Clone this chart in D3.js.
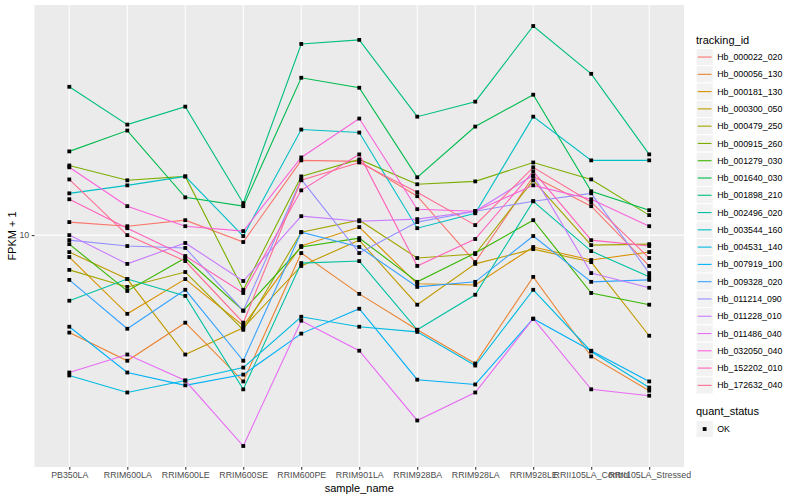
<!DOCTYPE html>
<html>
<head>
<meta charset="utf-8">
<script src="https://cdn.jsdelivr.net/npm/d3@7"></script>
<style>
body { margin: 0; background: #fff; }
text { font-family: "Liberation Sans", Arial, Helvetica, sans-serif; }
</style>
</head>
<body>
<div id="chart_area"></div>
<script>
//categories and legend
var sSamples = ["PB350LA","RRIM600LA","RRIM600LE","RRIM600SE","RRIM600PE","RRIM901LA",
	"RRIM928BA","RRIM928LA","RRIM928LE","RRII105LA_Control","RRII105LA_Stressed"];
var sIds = ["Hb_000022_020","Hb_000056_130","Hb_000181_130","Hb_000300_050","Hb_000479_250",
	"Hb_000915_260","Hb_001279_030","Hb_001640_030","Hb_001898_210","Hb_002496_020",
	"Hb_003544_160","Hb_004531_140","Hb_007919_100","Hb_009328_020","Hb_011214_090",
	"Hb_011228_010","Hb_011486_040","Hb_032050_040","Hb_152202_010","Hb_172632_040"];
var sColors = ["#F8766D","#EA8331","#D89000","#C09B00","#A3A500","#7CAE00","#39B600","#00BB4E",
	"#00BF7D","#00C1A3","#00BFC4","#00BAE0","#00B0F6","#35A2FF","#9590FF","#C77CFF",
	"#E76BF3","#FA62DB","#FF62BC","#FF6C91"];
var sYTicks = [10];
var sStatus = ["OK"];

//FPKM + 1 per gene, one value per sample
var hb000022_020 = [10.59,10.40,10.68,9.70,13.90,13.84,11.87,8.88,12.95,11.36,8.73];
var hb000056_130 = [6.51,5.75,6.80,5.25,9.24,7.72,6.59,5.68,8.32,5.86,5.04];
var hb000181_130 = [9.08,7.07,8.24,6.71,9.53,10.36,8.07,8.03,9.49,8.96,9.28];
var hb000300_050 = [9.28,8.24,5.91,6.65,8.73,9.78,7.36,8.81,9.40,8.88,6.42];
var hb000479_250 = [8.58,7.96,8.50,6.59,10.13,10.68,9.04,9.20,12.73,9.57,9.61];
var hb000915_260 = [13.59,12.73,12.95,7.86,12.95,13.96,12.51,12.67,13.77,12.78,10.92];
var hb001279_030 = [9.61,7.82,9.04,7.17,9.49,9.87,8.14,9.24,10.68,7.75,7.36];
var hb001640_030 = [14.46,15.85,11.81,11.36,20.00,19.14,12.90,16.13,18.56,12.13,11.16];
var hb001898_210 = [19.22,16.27,17.61,11.51,23.21,23.63,16.85,18.00,25.12,20.35,14.27];
var hb002496_020 = [7.49,8.24,7.65,5.07,8.84,8.92,6.59,7.69,11.61,9.32,8.32];
var hb003544_160 = [12.02,12.45,12.95,9.96,15.92,15.71,10.31,11.01,16.85,13.90,13.90];
var hb004531_140 = [5.39,5.00,5.27,5.58,6.98,6.68,6.53,5.63,7.86,5.99,5.11];
var hb007919_100 = [6.68,5.46,5.16,5.41,6.48,7.23,5.29,5.18,6.92,6.01,5.25];
var hb009328_020 = [8.21,6.62,7.86,5.75,10.13,9.49,7.96,8.14,9.96,8.14,8.21];
var hb011214_090 = [9.78,9.53,9.45,7.17,12.78,9.24,10.59,11.11,11.61,12.02,8.46];
var hb011228_010 = [10.00,8.81,9.66,8.17,10.87,10.63,10.73,11.11,13.01,8.46,7.93];
var hb011486_040 = [5.46,5.91,5.27,3.95,6.86,6.01,4.42,5.00,6.92,5.07,4.93];
var hb032050_040 = [13.48,11.36,10.40,10.18,14.08,16.71,11.21,11.11,12.45,11.71,10.40];
var hb152202_010 = [11.71,10.31,9.12,7.75,12.18,14.27,8.73,9.83,13.24,9.78,9.53];
var hb172632_040 = [12.78,10.00,8.92,6.80,12.73,13.77,12.08,10.45,13.48,11.56,9.04];

var sValues = [hb000022_020,hb000056_130,hb000181_130,hb000300_050,hb000479_250,hb000915_260,
	hb001279_030,hb001640_030,hb001898_210,hb002496_020,hb003544_160,hb004531_140,hb007919_100,
	hb009328_020,hb011214_090,hb011228_010,hb011486_040,hb032050_040,hb152202_010,hb172632_040];

var sSeries = sIds.map(function(id, i){
	return { id: id, color: sColors[i], values: sValues[i].map(function(v, j){ return { sample: sSamples[j], value: v }; }) };
});

//frame and panel
var sFrame = d3.select("#chart_area").append("svg").attr("width", 800).attr("height", 500);
sFrame.append("rect").attr("width", 800).attr("height", 500).attr("fill", "#fff");

var sPanel = { left: 34.5, right: 684, top: 5, bottom: 467 };

//scales (ggplot style expansion)
var sX = d3.scalePoint().domain(sSamples).range([sPanel.left, sPanel.right]).padding(0.6);
var sAll = d3.merge(sValues);
var sLo = Math.log10(d3.min(sAll)), sHi = Math.log10(d3.max(sAll));
var sPad = (sHi - sLo) * 0.05;
var sY = d3.scaleLog().domain([Math.pow(10, sLo - sPad), Math.pow(10, sHi + sPad)]).range([sPanel.bottom, sPanel.top]);

sFrame.append("rect")
	.attr("x", sPanel.left).attr("y", sPanel.top)
	.attr("width", sPanel.right - sPanel.left).attr("height", sPanel.bottom - sPanel.top)
	.attr("fill", "#EBEBEB");

//grid
var sGrid = sFrame.append("g");
sGrid.selectAll(".gx").data(sSamples).enter().append("line")
	.attr("x1", function(d){ return sX(d); }).attr("x2", function(d){ return sX(d); })
	.attr("y1", sPanel.top).attr("y2", sPanel.bottom)
	.attr("stroke", "#fff").attr("stroke-width", 1.1);
sGrid.selectAll(".gy").data(sYTicks).enter().append("line")
	.attr("x1", sPanel.left).attr("x2", sPanel.right)
	.attr("y1", function(d){ return sY(d); }).attr("y2", function(d){ return sY(d); })
	.attr("stroke", "#fff").attr("stroke-width", 1.1);

//lines
var sLine = d3.line().x(function(d){ return sX(d.sample); }).y(function(d){ return sY(d.value); });
sFrame.append("g").selectAll("path").data(sSeries).enter().append("path")
	.attr("d", function(d){ return sLine(d.values); })
	.attr("fill", "none").attr("stroke", function(d){ return d.color; }).attr("stroke-width", 1.1);

//points
var sPts = d3.merge(sSeries.map(function(s){ return s.values; }));
sFrame.append("g").selectAll("rect").data(sPts).enter().append("rect")
	.attr("x", function(d){ return sX(d.sample) - 1.9; })
	.attr("y", function(d){ return sY(d.value) - 1.9; })
	.attr("width", 3.8).attr("height", 3.8).attr("fill", "#000");

//axes
var sXAxis = d3.axisBottom(sX).tickSize(2.75).tickPadding(2.5);
var gX = sFrame.append("g").attr("transform", "translate(0," + sPanel.bottom + ")").call(sXAxis);
var sYAxis = d3.axisLeft(sY).tickValues(sYTicks).tickFormat(d3.format("d")).tickSize(2.75).tickPadding(2.5);
var gY = sFrame.append("g").attr("transform", "translate(" + sPanel.left + ",0)").call(sYAxis);
[gX, gY].forEach(function(g){
	g.select(".domain").remove();
	g.selectAll(".tick line").attr("stroke", "#333333").attr("stroke-width", 1.07);
	g.selectAll(".tick text").attr("fill", "#4D4D4D").style("font-size", "8.8px")
		.style("font-family", "'Liberation Sans', Arial, sans-serif");
});

sFrame.append("text").attr("x", (sPanel.left + sPanel.right) / 2).attr("y", 492)
	.attr("text-anchor", "middle").style("font-size", "11px").attr("fill", "#000").text("sample_name");
sFrame.append("text").attr("transform", "translate(16," + ((sPanel.top + sPanel.bottom) / 2) + ") rotate(-90)")
	.attr("text-anchor", "middle").style("font-size", "11px").attr("fill", "#000").text("FPKM + 1");

//legend tracking_id
var sKey = 17.28;
var sLeg = sFrame.append("g").attr("transform", "translate(696,0)");
sLeg.append("text").attr("x", 0).attr("y", 44).style("font-size", "11px").text("tracking_id");
var sItems = sLeg.selectAll(".item").data(sSeries).enter().append("g")
	.attr("transform", function(d, i){ return "translate(0," + (48.4 + i * sKey) + ")"; });
sItems.append("rect").attr("width", sKey).attr("height", sKey)
	.attr("fill", "#F2F2F2").attr("stroke", "#fff").attr("stroke-width", 1);
sItems.append("line").attr("x1", 1.7).attr("x2", sKey - 1.7)
	.attr("y1", sKey / 2).attr("y2", sKey / 2)
	.attr("stroke", function(d){ return d.color; }).attr("stroke-width", 1.1);
sItems.append("text").attr("x", sKey + 4).attr("y", sKey / 2 + 3.1)
	.style("font-size", "8.8px").text(function(d){ return d.id; });

//legend quant_status
var sLeg2 = sFrame.append("g").attr("transform", "translate(696,0)");
sLeg2.append("text").attr("x", 0).attr("y", 415).style("font-size", "11px").text("quant_status");
var sItems2 = sLeg2.selectAll(".item").data(sStatus).enter().append("g")
	.attr("transform", function(d, i){ return "translate(0," + (420.4 + i * sKey) + ")"; });
sItems2.append("rect").attr("width", sKey).attr("height", sKey)
	.attr("fill", "#F2F2F2").attr("stroke", "#fff").attr("stroke-width", 1);
sItems2.append("rect").attr("x", sKey / 2 - 1.9).attr("y", sKey / 2 - 1.9)
	.attr("width", 3.8).attr("height", 3.8).attr("fill", "#000");
sItems2.append("text").attr("x", sKey + 4).attr("y", sKey / 2 + 3.1)
	.style("font-size", "8.8px").text(function(d){ return d; });
</script>
</body>
</html>
